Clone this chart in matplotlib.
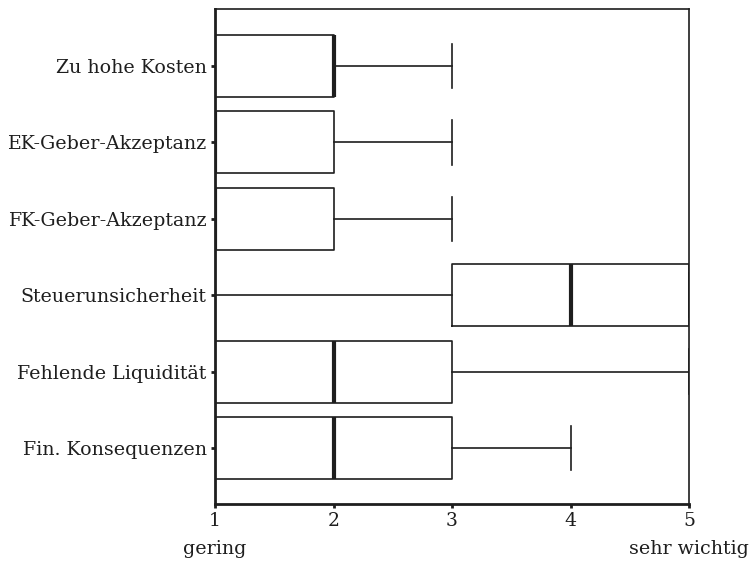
import matplotlib
matplotlib.use("Agg")
import matplotlib.pyplot as plt

categories = ["Zu hohe Kosten", "EK-Geber-Akzeptanz", "FK-Geber-Akzeptanz",
              "Steuerunsicherheit", "Fehlende Liquidität", "Fin. Konsequenzen"]
q1 = [1, 1, 1, 3, 1, 1]
median = [2, 1, 1, 4, 2, 2]
q3 = [2, 2, 2, 5, 3, 3]
whis_lo = [1, 1, 1, 1, 1, 1]
whis_hi = [3, 3, 3, 5, 5, 4]
xticks = [1, 2, 3, 4, 5]
end_labels = {1: "gering", 5: "sehr wichtig"}

plt.rcParams['font.family'] = ['DejaVu Serif']
ink = "#1e1e1e"

fig = plt.figure(figsize=(7.5, 5.64), dpi=100)
ax = fig.add_axes([0.2867, 0.1064, 0.632, 0.8777])

n = len(categories)
stats = []
for i in range(n):
    stats.append(dict(label=categories[i], q1=q1[i], med=median[i], q3=q3[i],
                      whislo=whis_lo[i], whishi=whis_hi[i], fliers=[]))
positions = list(range(n, 0, -1))

ax.bxp(stats, positions=positions, vert=False, widths=0.81, capwidths=0.58,
       showfliers=False,
       boxprops=dict(color=ink, linewidth=1.2),
       whiskerprops=dict(color=ink, linewidth=1.2),
       capprops=dict(color=ink, linewidth=1.2),
       medianprops=dict(color=ink, linewidth=3.0, solid_capstyle='butt'))

ax.set_xlim(1, 5)
ax.set_ylim(0.267, 6.746)
ax.set_yticks(positions)
ax.set_yticklabels(categories, fontsize=13.7, color=ink)
ax.set_xticks(xticks)
ax.set_xticklabels([str(t) for t in xticks], fontsize=13.5, color=ink)
ax.tick_params(axis='both', length=3, width=2, color=ink, pad=3)
for s in ax.spines.values():
    s.set_color(ink)
    s.set_linewidth(1.2)
ax.spines['left'].set_linewidth(2.0)
ax.spines['bottom'].set_linewidth(2.0)

for xv, txt in end_labels.items():
    ax.annotate(txt, xy=(xv, 0), xycoords=('data', 'axes fraction'),
                xytext=(0, -26), textcoords='offset points',
                ha='center', va='top', fontsize=13.7, color=ink,
                annotation_clip=False)

fig.savefig("out.png", dpi=100)
